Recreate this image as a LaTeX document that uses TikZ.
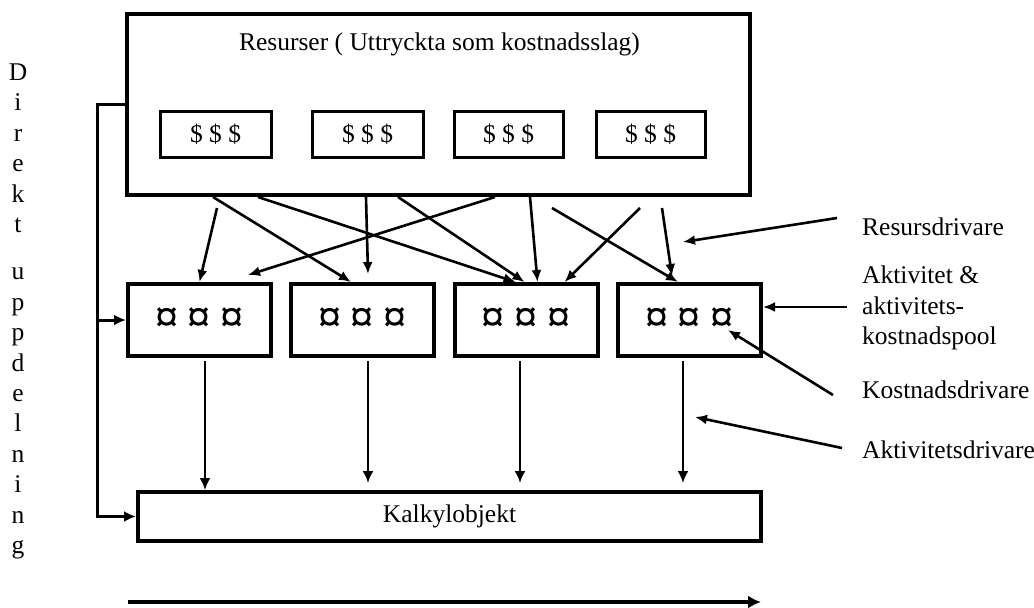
\documentclass[tikz,border=0pt]{standalone}
\usepackage{fontspec}
\setmainfont{Liberation Serif}
\usetikzlibrary{arrows.meta,calc}
\newcommand\currsym{{\fontsize{46}{46}\selectfont\bfseries ¤\hspace{10pt}¤\hspace{10pt}¤}}
\begin{document}
\begin{tikzpicture}[x=1pt,y=-1pt,
  every node/.style={font=\fontsize{25.5}{30.4}\selectfont},
  bigbox/.style={draw,rectangle,line width=4pt,inner sep=0pt},
  dollarbox/.style={draw,rectangle,line width=3pt,inner sep=0pt,minimum height=46pt},
  midbox/.style={draw,rectangle,line width=4pt,inner sep=0pt,minimum width=143pt,minimum height=72pt},
  arr/.style={line width=2.6pt,-{Latex[length=12pt,width=10pt]}},
  lo/.style={line width=2.2pt,-{Latex[length=12pt,width=11pt]}},
  bracket/.style={line width=3pt,-{Latex[length=12pt,width=11pt]}},
  longarr/.style={line width=3.5pt,-{Latex[length=13pt,width=13pt]}},
  lbl/.style={anchor=west,inner sep=0pt}
]
\useasboundingbox (0,0) rectangle (1034,608);

% top resource box
\node[bigbox,minimum width=623pt,minimum height=181pt] (top) at (438.5,104.5) {};
\node[anchor=base,inner sep=0pt] (title) at (439.5,50) {Resurser ( Uttryckta som kostnadsslag)};
\node[dollarbox,minimum width=111pt] (d1) at (215.5,134) {\$ \$ \$};
\node[dollarbox,minimum width=111pt] (d2) at (367.5,134) {\$ \$ \$};
\node[dollarbox,minimum width=109pt] (d3) at (508.5,134) {\$ \$ \$};
\node[dollarbox,minimum width=109pt] (d4) at (650.5,134) {\$ \$ \$};

% activity boxes
\node[midbox] (m1) at (199.5,320) {\currsym};
\node[midbox] (m2) at (362.5,320) {\currsym};
\node[midbox] (m3) at (526,320) {\currsym};
\node[midbox] (m4) at (689.5,320) {\currsym};

% cost object
\node[bigbox,minimum width=623pt,minimum height=49pt] (kalk) at (449.5,516.5) {Kalkylobjekt};

% vertical text
\node[anchor=north,inner sep=0pt,align=center] (vert) at (18,63.5)
  {D\\i\\r\\e\\k\\t\\[17pt]u\\p\\p\\d\\e\\l\\n\\i\\n\\g};

% right labels
\node[lbl] (lres) at (862,226.5) {Resursdrivare};
\node[lbl,align=left] (lakt) at (862,308) {Aktivitet \&\\aktivitets-\\kostnadspool};
\node[lbl] (lkost) at (862,389.5) {Kostnadsdrivare};
\node[lbl] (laktd) at (862,449.5) {Aktivitetsdrivare};

% free ends
\coordinate (aS) at (217,208);
\coordinate (dE) at (368,274);
\coordinate (fE) at (248,275);
\coordinate (hS) at (640,208);
\coordinate (iS) at (552,208);
\coordinate (jS) at (662,208);
\coordinate (jE) at (672,276);
\coordinate (tres) at (683,242);
\coordinate (tkost) at (728,330);
\coordinate (taktd) at (695,417);
\coordinate (s1) at (205,361);
\coordinate (s2) at (368,361);
\coordinate (s3) at (520,361);
\coordinate (s4) at (683,361);
\coordinate (e2) at (368,483);
\coordinate (e3) at (520,483);
\coordinate (e4) at (683,483);
\coordinate (bx) at (97,0);
\coordinate (bl) at (128,602);
\coordinate (brt) at (761,602);

% resource drivers (top to activities)
\draw[arr] (aS) -- (m1.north);
\draw[arr] ($(top.south west)+(88,0)$) -- ($(m2.north west)+(62,0)$);
\draw[arr] ($(top.south west)+(133,0)$) -- ($(m3.north west)+(63,0)$);
\draw[arr] ($(top.south west)+(241,0)$) -- (dE);
\draw[arr] ($(top.south west)+(273,0)$) -- ($(m3.north west)+(72,0)$);
\draw[arr] ($(top.south west)+(370,0)$) -- (fE);
\draw[arr] ($(top.south west)+(405,0)$) -- ($(m3.north west)+(85,0)$);
\draw[arr] (hS) -- ($(m3.north west)+(112,0)$);
\draw[arr] (iS) -- ($(m4.north west)+(62,0)$);
\draw[arr] (jS) -- (jE);

% activity drivers
\draw[lo] (s1) -- (s1 |- kalk.north);
\draw[lo] (s2) -- (e2);
\draw[lo] (s3) -- (e3);
\draw[lo] (s4) -- (e4);

% direct allocation bracket
\draw[bracket] (top.west) -- (top.west -| bx) |- (kalk.west);
\draw[bracket] (m1.west -| bx) -- (m1.west);

% bottom arrow
\draw[longarr] (bl) -- (brt);

% label arrows
\draw[arr] ($(lres.west)+(-25,-8.5)$) -- (tres);
\draw[arr] ($(lakt.west)+(-15,-1)$) -- ($(m4.east)+(0,-13)$);
\draw[arr] ($(lkost.west)+(-29,5.5)$) -- (tkost);
\draw[arr] ($(laktd.west)+(-20,-1.5)$) -- (taktd);
\end{tikzpicture}
\end{document}
